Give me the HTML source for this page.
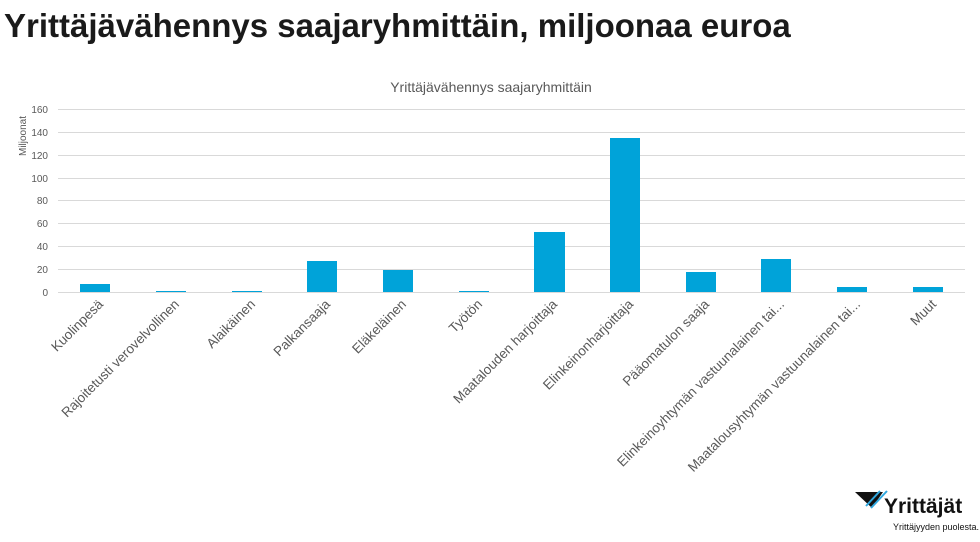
<!DOCTYPE html>
<html><head><meta charset="utf-8"><style>
body{margin:0;width:980px;height:537px;background:#fff;overflow:hidden;font-family:"Liberation Sans",sans-serif}
</style></head><body>
<svg width="980" height="537" xmlns="http://www.w3.org/2000/svg" font-family="Liberation Sans, sans-serif">
<text x="4" y="37" font-size="33" font-weight="bold" fill="#1a1a1a">Yrittäjävähennys saajaryhmittäin, miljoonaa euroa</text>
<text x="491" y="92" font-size="14" fill="#595959" text-anchor="middle">Yrittäjävähennys saajaryhmittäin</text>
<g stroke="#d9d9d9" stroke-width="1">
<line x1="58" x2="965" y1="109.5" y2="109.5"/><line x1="58" x2="965" y1="132.5" y2="132.5"/>
<line x1="58" x2="965" y1="155.5" y2="155.5"/><line x1="58" x2="965" y1="178.5" y2="178.5"/>
<line x1="58" x2="965" y1="200.5" y2="200.5"/><line x1="58" x2="965" y1="223.5" y2="223.5"/>
<line x1="58" x2="965" y1="246.5" y2="246.5"/><line x1="58" x2="965" y1="269.5" y2="269.5"/>
<line x1="58" x2="965" y1="292.5" y2="292.5"/>
</g>
<g font-size="10" fill="#595959" text-anchor="end">
<text x="48" y="113">160</text><text x="48" y="136">140</text><text x="48" y="159">120</text>
<text x="48" y="182">100</text><text x="48" y="204">80</text><text x="48" y="227">60</text>
<text x="48" y="250">40</text><text x="48" y="273">20</text><text x="48" y="296">0</text>
</g>
<text transform="translate(26,136) rotate(-90)" font-size="10" fill="#595959" text-anchor="middle">Miljoonat</text>
<g fill="#00a3d9">
<rect x="80" y="284" width="30" height="8"/>
<rect x="156" y="291" width="30" height="1"/>
<rect x="232" y="291" width="30" height="1"/>
<rect x="307" y="261" width="30" height="31"/>
<rect x="383" y="270" width="30" height="22"/>
<rect x="459" y="291" width="30" height="1"/>
<rect x="534" y="232" width="31" height="60"/>
<rect x="610" y="138" width="30" height="154"/>
<rect x="686" y="272" width="30" height="20"/>
<rect x="761" y="259" width="30" height="33"/>
<rect x="837" y="287" width="30" height="5"/>
<rect x="913" y="287" width="30" height="5"/>
</g>
<g font-size="13.5" fill="#595959" text-anchor="end">
<text transform="translate(104,305) rotate(-45)">Kuolinpesä</text>
<text transform="translate(180,305) rotate(-45)">Rajoitetusti verovelvollinen</text>
<text transform="translate(256,305) rotate(-45)">Alaikäinen</text>
<text transform="translate(331,305) rotate(-45)">Palkansaaja</text>
<text transform="translate(407,305) rotate(-45)">Eläkeläinen</text>
<text transform="translate(483,305) rotate(-45)">Työtön</text>
<text transform="translate(558,305) rotate(-45)">Maatalouden harjoittaja</text>
<text transform="translate(634,305) rotate(-45)">Elinkeinonharjoittaja</text>
<text transform="translate(710,305) rotate(-45)">Pääomatulon saaja</text>
<text transform="translate(785,305) rotate(-45)">Elinkeinoyhtymän vastuunalainen tai...</text>
<text transform="translate(861,305) rotate(-45)">Maatalousyhtymän vastuunalainen tai...</text>
<text transform="translate(937,305) rotate(-45)">Muut</text>
</g>
<g>
<polygon points="855,492 883,492 872,508" fill="#111"/>
<line x1="866" y1="506" x2="880" y2="491" stroke="#2fa8e0" stroke-width="2"/>
<line x1="871" y1="508" x2="887" y2="491" stroke="#2fa8e0" stroke-width="2"/>
<text x="884" y="513" font-size="21" font-weight="bold" fill="#111">Yrittäjät</text>
<text x="893" y="530" font-size="9" fill="#111">Yrittäjyyden puolesta.</text>
</g>
</svg>
</body></html>
